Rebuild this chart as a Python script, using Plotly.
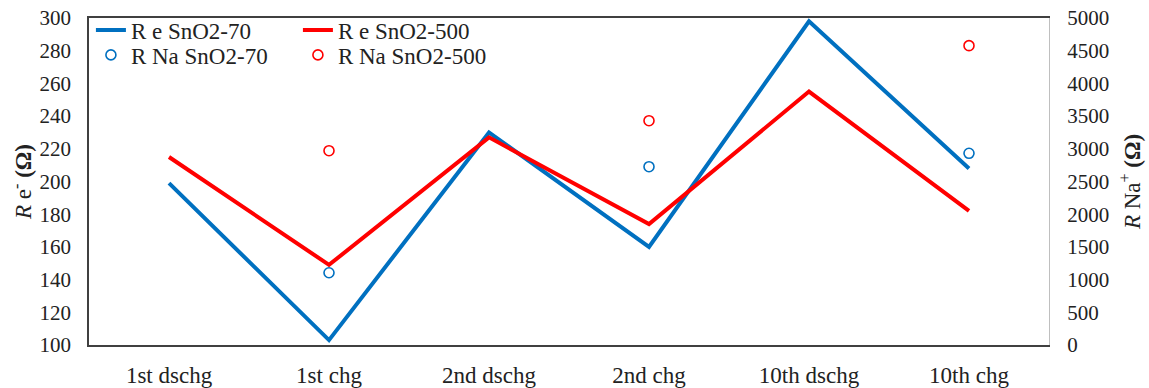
import plotly.graph_objects as go

categories = ["1st dschg", "1st chg", "2nd dschg", "2nd chg", "10th dschg", "10th chg"]
re_sno2_70 = [199, 103, 230, 160, 298, 208]
re_sno2_500 = [215, 149, 227, 174, 255, 182]
rna_sno2_70 = [None, 1105, None, 2726, None, 2931]
rna_sno2_500 = [None, 2971, None, 3430, None, 4577]

blue = "#0070C0"
red = "#FF0000"
font_family = "Liberation Serif"

fig = go.Figure()
fig.add_trace(go.Scatter(x=categories, y=re_sno2_70, mode="lines", name="R e SnO2-70",
                         line=dict(color=blue, width=4), legend="legend"))
fig.add_trace(go.Scatter(x=categories, y=re_sno2_500, mode="lines", name="R e SnO2-500",
                         line=dict(color=red, width=4), legend="legend"))
fig.add_trace(go.Scatter(x=categories, y=rna_sno2_70, mode="markers", name="R Na SnO2-70",
                         marker=dict(symbol="circle-open", size=10, color=blue, line=dict(width=1.6)),
                         yaxis="y2", legend="legend2"))
fig.add_trace(go.Scatter(x=categories, y=rna_sno2_500, mode="markers", name="R Na SnO2-500",
                         marker=dict(symbol="circle-open", size=10, color=red, line=dict(width=1.6)),
                         yaxis="y2", legend="legend2"))

legend_common = dict(orientation="h", xanchor="left", yanchor="middle",
                     font=dict(family=font_family, size=23, color="#222"),
                     bgcolor="rgba(0,0,0,0)", entrywidth=162, entrywidthmode="pixels",
                     itemwidth=30, tracegroupgap=0)

fig.update_layout(
    width=1149, height=388,
    margin=dict(l=89, r=100, t=18, b=43, autoexpand=False),
    paper_bgcolor="white", plot_bgcolor="white",
    font=dict(family=font_family, size=20, color="#222"),
    legend=dict(x=0.002, y=0.963, **legend_common),
    legend2=dict(x=0.002, y=0.887, **legend_common),
    xaxis=dict(type="category", range=[-0.5, 5.5], showline=True, linecolor="#404040", linewidth=1.5,
               mirror=True, showgrid=False, ticks="", tickfont=dict(size=23), ticklabelstandoff=9,
               automargin=False, ticklabeloverflow="allow"),
    yaxis=dict(range=[100, 300], dtick=20, showline=True, linecolor="#404040", linewidth=1.5,
               showgrid=False, ticks="", tickfont=dict(size=21), ticklabelstandoff=12, automargin=False,
               ticklabeloverflow="allow",
               title=dict(text="<i>R</i> e<sup>-</sup> <b>(Ω)</b>", font=dict(size=23), standoff=1)),
    yaxis2=dict(range=[0, 5000], dtick=500, overlaying="y", side="right", showline=True,
                linecolor="#BFBFBF", linewidth=1, showgrid=False, ticks="", tickfont=dict(size=21),
                ticklabelstandoff=13, automargin=False, ticklabeloverflow="allow",
                title=dict(text="<i>R</i> Na<sup>+</sup> <b>(Ω)</b>", font=dict(size=23), standoff=15)),
)

# remove the default 8px page margin so the figure fills the window exactly
fig.write_html("out.html", config={"displayModeBar": False},
               post_script="document.body.style.margin='0';")
